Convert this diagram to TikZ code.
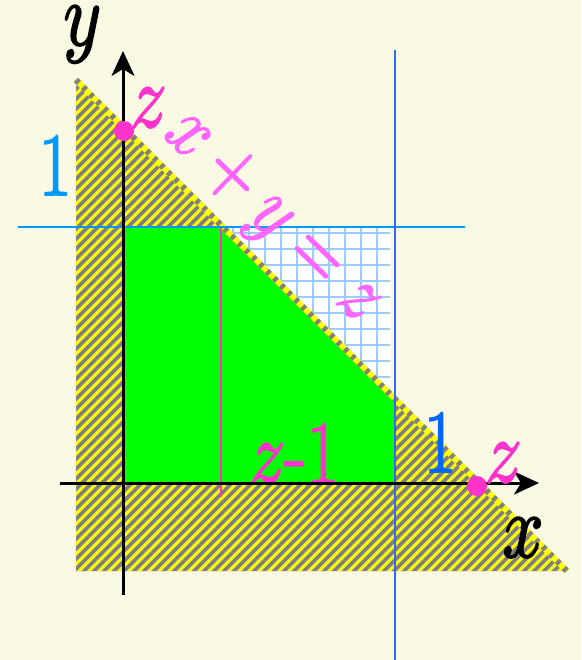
\documentclass[tikz,border=0pt]{standalone}
\usepackage{graphicx}
\usepackage{fontspec}
\usepackage{unicode-math}
\setmainfont{Latin Modern Roman}[FakeBold=2]
\setmathfont{Latin Modern Math}[FakeBold=2]
\usetikzlibrary{arrows.meta}
\definecolor{bg}{HTML}{FAF9E4}
\definecolor{hatchgray}{HTML}{808080}
\definecolor{hatchyellow}{HTML}{FFFF00}
\definecolor{gridblue}{HTML}{99CCFF}
\definecolor{lightblue}{HTML}{0099FF}
\definecolor{darkblue}{HTML}{3366FF}
\definecolor{blueB}{HTML}{0066FF}
\definecolor{pinkA}{HTML}{FF33CC}
\definecolor{pinkB}{HTML}{FF66FF}
\definecolor{brightgreen}{HTML}{00FF00}
\newcommand{\nar}[1]{\scalebox{0.8}[1]{#1}}
\begin{document}
\begin{tikzpicture}[x=1pt,y=-1pt,
  lbl/.style={font=\fontsize{90}{92}\selectfont, inner sep=0pt, anchor=base},
  axisline/.style={line width=3pt, -{Stealth[length=25pt,width=23pt,inset=7pt]}},
  pdot/.style={circle, fill=pinkA, minimum size=20pt, inner sep=0pt},
  gridline/.style={gridblue, line width=2pt}]
\fill[bg] (0,0) rectangle (581,660);
\useasboundingbox (0,0) rectangle (581,660);
% hatched triangle
\coordinate (T1) at (76,80);
\coordinate (T2) at (76,571);
\coordinate (T3) at (567,571);
\begin{scope}
\clip (T1) -- (T2) -- (T3) -- cycle;
\fill[hatchgray] (70,70) rectangle (580,580);
\foreach \a in {-460,-450,...,570}
  \draw[hatchyellow, line width=3pt] (\a,600) -- ++(600,-600);
\end{scope}
% grid region
\fill[white] (221,227) rectangle (390,399);
\foreach \g in {233,249,...,389} {
  \draw[gridline] (\g,227) -- (\g,399);
  \draw[gridline] (221,\g) -- (390,\g);
}
% green region
\fill[brightgreen] (123,227) -- (223,227) -- (395,399) -- (395,483) -- (123,483) -- cycle;
% diagonal border
\draw[hatchyellow, line width=6pt] (T1) -- (T3);
\draw[hatchgray, line width=6pt, dash pattern=on 4pt off 6pt] (T1) -- (T3);
% guide lines
\coordinate (P1) at (221,227);
\coordinate (P2) at (221,497);
\draw[pinkA, line width=2pt] (P1) -- (P2);
\coordinate (H1) at (18,227);
\coordinate (H2) at (465,227);
\draw[lightblue, line width=2.5pt] (H1) -- (H2);
\coordinate (V1) at (395,50);
\coordinate (V2) at (395,660);
\draw[darkblue, line width=2pt] (V1) -- (V2);
% z-1 label (under axis)
\node[lbl, text=pinkA] (zm1) at (294,483) {\nar{$z$-1}};
% axes
\coordinate (XA) at (60,483);
\coordinate (XB) at (539,483);
\coordinate (YA) at (123,595);
\coordinate (YB) at (123,51);
\draw[axisline] (XA) -- (XB);
\draw[axisline] (YA) -- (YB);
% labels
\node[lbl] (ylab) at (82,45) {\nar{$y$}};
\node[lbl] (xlab) at (523,557) {\nar{$x$}};
\node[lbl, text=lightblue] (oneY) at (55,195) {\nar{1}};
\node[lbl, text=blueB] (oneX) at (440,472) {\nar{1}};
\node[lbl, text=pinkA] (zX) at (503,482) {\nar{$z$}};
\node[lbl, text=pinkA] (zY) at (148,127) {\nar{$z$}};
\node[lbl, font=\fontsize{82}{84}\selectfont, text=pinkB, rotate=-44] (eq) at (260,230)
  {\nar{$x+y=z$}};
% dots
\node[pdot] (dY) at (124,131) {};
\node[pdot] (dX) at (477,486) {};
\end{tikzpicture}
\end{document}
